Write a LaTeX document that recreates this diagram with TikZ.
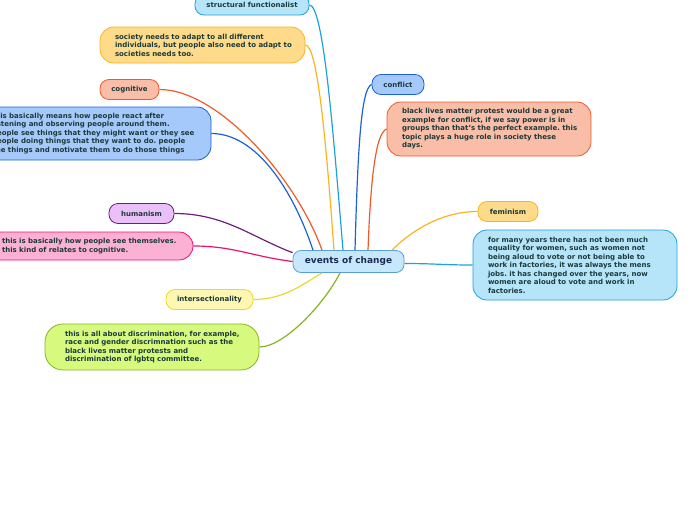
\documentclass[tikz,border=0pt]{standalone}
\usepackage{fontspec}
\setmainfont{DejaVu Sans}
\frenchspacing
\definecolor{txt}{HTML}{1C3A3A}
\definecolor{ctxt}{HTML}{1A2A55}
\definecolor{lbF}{HTML}{B6E5FA}\definecolor{lbD}{HTML}{1DA2E0}
\definecolor{yeF}{HTML}{FEDB8A}\definecolor{yeD}{HTML}{F9B51F}
\definecolor{saF}{HTML}{F9BDA8}\definecolor{saD}{HTML}{F05A28}
\definecolor{blF}{HTML}{A6C9FB}\definecolor{blD}{HTML}{1A62D6}
\definecolor{laF}{HTML}{EBBFF8}\definecolor{laD}{HTML}{6B1E7A}
\definecolor{piF}{HTML}{FBB0D4}\definecolor{piD}{HTML}{F0106C}
\definecolor{pyF}{HTML}{FDF7B3}\definecolor{pyD}{HTML}{E8D92E}
\definecolor{liF}{HTML}{D6F97E}\definecolor{liD}{HTML}{86B520}
\definecolor{ceF}{HTML}{C7E8FB}\definecolor{ceD}{HTML}{5A9FD6}
\newcommand{\tline}[1]{\mbox{#1}}
\tikzset{
  base/.style={font=\fontsize{7}{8.5}\selectfont\bfseries\frenchspacing, text=txt, line width=0.8pt, inner ysep=0pt},
  pill/.style={base, rounded corners=9pt, minimum height=20pt, inner xsep=0pt},
  box/.style={base, rounded corners=14pt, align=left, inner xsep=15pt},
  conn/.style={line width=1.2pt},
}
\begin{document}
\begin{tikzpicture}[x=1pt,y=1pt]
\useasboundingbox (0,0) rectangle (696,-520);

\node[base, rounded corners=8pt, minimum width=111pt, minimum height=22pt, inner xsep=0pt, fill=ceF, draw=ceD, text=ctxt, font=\fontsize{9}{10}\selectfont\bfseries] (ec) at (348.5,-261.5) {events of change};

\node[pill, minimum width=114pt, fill=lbF, draw=lbD] (sf) at (252,-5) {structural functionalist};
\node[box, text width=175pt, minimum height=36pt, fill=yeF, draw=yeD] (soc) at (202.5,-45) {\tline{society needs to adapt to all different}\\\tline{individuals, but people also need to adapt to}\\\tline{societies needs too.}};
\node[pill, minimum width=59pt, fill=saF, draw=saD] (cog) at (129.5,-89.5) {cognitive};
\node[box, text width=204pt, minimum height=53pt, fill=blF, draw=blD] (obs) at (94,-133.5) {\tline{this basically means how people react after}\\\tline{listening and observing people around them.}\\\tline{people see things that they might want or they see}\\\tline{people doing things that they want to do. people}\\\tline{see things and motivate them to do those things}};
\node[pill, minimum width=65pt, fill=laF, draw=laD] (hum) at (141.5,-213.5) {humanism};
\node[box, text width=176pt, minimum height=28pt, fill=piF, draw=piD] (self) at (90,-246) {\tline{this is basically how people see themselves.}\\\tline{this kind of relates to cognitive.}};
\node[pill, minimum width=87pt, fill=pyF, draw=pyD] (int) at (209.5,-299.5) {intersectionality};
\node[box, text width=174pt, inner xsep=20pt, minimum height=46pt, rounded corners=18pt, fill=liF, draw=liD] (disc) at (152,-347) {\tline{this is all about discrimination, for example,}\\\tline{race and gender discrimnation such as the}\\\tline{black lives matter protests and}\\\tline{discrimination of lgbtq committee.}};

\node[pill, minimum width=52pt, fill=blF, draw=blD] (con) at (398,-84.5) {conflict};
\node[box, text width=174pt, minimum height=54pt, fill=saF, draw=saD] (blm) at (489,-129) {\tline{black lives matter protest would be a great}\\\tline{example for conflict, if we say power is in}\\\tline{groups than that's the perfect example. this}\\\tline{topic plays a huge role in society these}\\\tline{days.}};
\node[pill, minimum width=60pt, fill=yeF, draw=yeD] (fem) at (508,-211.5) {feminism};
\node[box, text width=174pt, minimum height=70pt, fill=lbF, draw=lbD] (fmy) at (575,-265) {\tline{for many years there has not been much}\\\tline{equality for women, such as women not}\\\tline{being aloud to vote or not being able to}\\\tline{work in factories, it was always the mens}\\\tline{jobs. it has changed over the years, now}\\\tline{women are aloud to vote and work in}\\\tline{factories.}};

\draw[conn, lbD] (sf.east) .. controls +(14,0) and +(-10,120) .. ([xshift=-5.5pt]ec.north);
\draw[conn, yeD] (soc.east) .. controls +(12,0) and +(-8,110) .. ([xshift=-14.5pt]ec.north);
\draw[conn, saD] (cog.east) .. controls +(60,0) and +(-25,70) .. ([xshift=-26.5pt]ec.north);
\draw[conn, blD] (obs.east) .. controls +(45,0) and +(-20,60) .. ([xshift=-35.5pt]ec.north);
\draw[conn, laD] (hum.east) .. controls +(50,0) and +(-40,15) .. (ec.171);
\draw[conn, piD] (self.east) .. controls +(40,0) and +(-40,5) .. (ec.west);
\draw[conn, pyD] (int.east) .. controls +(30,0) and +(-20,-12) .. ([xshift=-26.5pt]ec.south);
\draw[conn, liD] (disc.east) .. controls +(25,0) and +(-15,-30) .. ([xshift=-8.5pt]ec.south);
\draw[conn, blD] (con.west) .. controls +(-10,-4) and +(3,110) .. ([xshift=6.5pt]ec.north);
\draw[conn, saD] (blm.west) .. controls +(-10,-4) and +(3,80) .. ([xshift=19.5pt]ec.north);
\draw[conn, yeD] (fem.west) .. controls +(-40,0) and +(15,15) .. ([xshift=43.5pt]ec.north);
\draw[conn, lbD] (fmy.west) .. controls +(-30,0) and +(30,0) .. ([yshift=-2pt]ec.east);
\end{tikzpicture}
\end{document}
